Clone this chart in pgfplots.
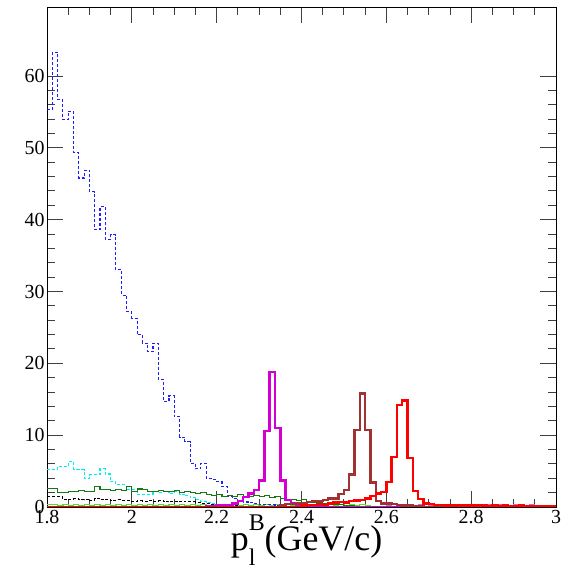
\documentclass[border=0pt]{standalone}
\usepackage{pgfplots}
\pgfplotsset{compat=1.18}
\usepackage{pgfplotstable}
\usepackage{fontspec}
\setmainfont{Liberation Serif}
\definecolor{hblue}{RGB}{30,30,255}
\definecolor{hcyan}{RGB}{0,240,240}
\definecolor{hgreen}{RGB}{20,120,20}
\definecolor{hmag}{RGB}{210,0,210}
\definecolor{hbrown}{RGB}{160,50,50}
\definecolor{hred}{RGB}{255,0,0}
\definecolor{hlgreen}{RGB}{90,220,40}
\definecolor{hviolet}{RGB}{200,100,220}
\pgfplotstableread{
x b c g k m br r lg vi
1.8000 55.3 5.2 2.6 1.4 0 0 0 0.3 0
1.8125 63.3 5.2 2.6 1.4 0 0 0 0.3 0
1.8250 56.7 5.6 2.0 1.4 0 0 0 0.2 0
1.8375 53.9 5.6 2.0 1.0 0 0 0 0.3 0
1.8500 55.1 6.3 2.2 1.1 0 0 0 0.2 0
1.8625 49.3 5.2 2.1 1.2 0 0 0 0.3 0
1.8750 45.8 5.2 2.3 1.0 0 0 0 0.2 0
1.8875 46.9 4.0 2.2 1.1 0 0 0 0.3 0
1.9000 43.9 4.5 2.2 0.9 0 0 0 0.2 0
1.9125 38.6 4.5 2.8 1.2 0 0 0 0.3 0
1.9250 41.8 5.3 2.4 1.0 0 0 0 0.2 0
1.9375 37.2 4.6 2.4 1.1 0 0 0 0.3 0
1.9500 37.9 3.5 2.3 0.9 0 0 0 0.2 0
1.9625 33.0 3.1 2.4 1.0 0 0 0 0.3 0
1.9750 29.5 3.1 2.3 0.9 0 0 0 0.2 0
1.9875 27.2 2.4 2.8 0.9 0 0 0 0.3 0
2.0000 26.3 2.4 2.2 0.8 0 0 0 0.2 0
2.0125 24.0 1.7 2.5 0.9 0 0 0 0.3 0
2.0250 22.8 1.7 2.4 0.8 0 0 0 0.2 0
2.0375 21.6 1.7 2.2 0.9 0 0 0 0.3 0
2.0500 22.8 2.1 2.1 0.8 0 0 0 0.2 0
2.0625 17.7 2.0 2.3 0.9 0 0 0 0.3 0
2.0750 14.7 2.2 2.2 0.7 0 0 0 0.2 0
2.0875 15.5 1.9 2.1 0.8 0 0 0 0.3 0
2.1000 12.6 2.1 2.3 0.7 0 0 0 0.2 0
2.1125 9.7 1.8 2.0 0.8 0 0 0 0.3 0
2.1250 9.1 1.6 2.1 0.7 0 0 0 0.2 0
2.1375 6.1 1.3 2.0 0.7 0 0 0 0.3 0
2.1500 5.3 1.0 1.9 0.6 0 0 0 0.2 0
2.1625 6.1 0.8 2.0 0.5 0 0 0 0.3 0
2.1750 4.0 0.6 1.8 0.5 0.1 0 0 0.2 0
2.1875 3.8 0.5 1.6 0.4 0.1 0 0 0.3 0
2.2000 3.5 0.3 1.7 0.3 0.2 0 0 0.2 0
2.2125 2.8 0.2 1.5 0.3 0.2 0 0 0.3 0
2.2250 1.4 0.1 1.6 0.2 0.3 0 0 0.2 0
2.2375 1.2 0 1.4 0.2 0.5 0 0 0.3 0
2.2500 0.9 0 1.7 0.1 0.8 0 0 0.2 0
2.2625 0.7 0 1.5 0.1 1.4 0 0 0.3 0
2.2750 0.6 0 1.4 0 1.9 0 0 0.2 0
2.2875 0.5 0 1.6 0 2.4 0 0 0.3 0
2.3000 0.4 0 1.5 0 3.7 0 0 0.2 0
2.3125 0.3 0 1.6 0 10.6 0 0 0.3 0
2.3250 0.3 0 1.3 0 18.8 0 0 0.2 0
2.3375 0.2 0 1.4 0 11.0 0 0 0.3 0
2.3500 0.2 0 1.2 0 3.7 0.3 0 0.2 0
2.3625 0.1 0 1.0 0 1.0 0.4 0 0.3 0
2.3750 0 0 1.1 0 0.5 0.4 0 0.2 0
2.3875 0 0 0.9 0 0.3 0.5 0 0.3 0
2.4000 0 0 1.0 0 0.2 0.5 0.2 0.2 0
2.4125 0 0 0.8 0 0.2 0.7 0.3 0.3 0
2.4250 0 0 0.7 0 0.1 0.8 0.3 0.2 0
2.4375 0 0 0.6 0 0.1 0.8 0.4 0.3 0
2.4500 0 0 0.5 0 0 1.0 0.3 0.2 0
2.4625 0 0 0.4 0 0 1.2 0.5 0.3 0
2.4750 0 0 0.3 0 0 1.2 0.6 0.2 0
2.4875 0 0 0.3 0 0 1.8 0.7 0.3 0
2.5000 0 0 0.2 0 0 2.4 0.6 0.2 0
2.5125 0 0 0.2 0 0 4.5 0.8 0.3 0
2.5250 0 0 0.1 0 0 10.7 0.9 0.2 0
2.5375 0 0 0 0 0 15.8 1.0 0.3 0
2.5500 0 0 0 0 0 10.7 1.2 0.2 0
2.5625 0 0 0 0 0 3.4 1.5 0.1 0
2.5750 0 0 0 0 0 0.8 1.9 0.1 0
2.5875 0 0 0 0 0 0.5 2.1 0.1 0
2.6000 0 0 0 0 0 0.5 3.5 0.1 0.2
2.6125 0 0 0 0 0 0.4 7.0 0.1 0.3
2.6250 0 0 0 0 0 0.3 14.2 0.1 0.2
2.6375 0 0 0 0 0 0.2 14.8 0.1 0.3
2.6500 0 0 0 0 0 0.2 6.8 0.1 0.3
2.6625 0 0 0 0 0 0.1 2.2 0.1 0.2
2.6750 0 0 0 0 0 0.1 1.1 0.1 0.3
2.6875 0 0 0 0 0 0 0.5 0.1 0.3
2.7000 0 0 0 0 0 0 0.4 0.1 0.2
2.7125 0 0 0 0 0 0 0.3 0.1 0.3
2.7250 0 0 0 0 0 0 0.3 0.1 0.3
2.7375 0 0 0 0 0 0 0.2 0.1 0.2
2.7500 0 0 0 0 0 0 0.3 0.1 0.3
2.7625 0 0 0 0 0 0 0.2 0.1 0.3
2.7750 0 0 0 0 0 0 0.3 0.1 0.2
2.7875 0 0 0 0 0 0 0.2 0.1 0.3
2.8000 0 0 0 0 0 0 0.2 0.1 0.3
2.8125 0 0 0 0 0 0 0.3 0.1 0.2
2.8250 0 0 0 0 0 0 0.2 0.1 0.3
2.8375 0 0 0 0 0 0 0.1 0.1 0.3
2.8500 0 0 0 0 0 0 0.2 0.1 0.2
2.8625 0 0 0 0 0 0 0.1 0.1 0.3
2.8750 0 0 0 0 0 0 0.2 0.1 0.3
2.8875 0 0 0 0 0 0 0.1 0.1 0.2
2.9000 0 0 0 0 0 0 0.1 0.1 0.3
2.9125 0 0 0 0 0 0 0.2 0.1 0.3
2.9250 0 0 0 0 0 0 0.1 0.1 0.2
2.9375 0 0 0 0 0 0 0.1 0.1 0.3
2.9500 0 0 0 0 0 0 0.1 0.1 0.2
2.9625 0 0 0 0 0 0 0.1 0.1 0.1
2.9750 0 0 0 0 0 0 0.1 0.1 0.1
2.9875 0 0 0 0 0 0 0.1 0.1 0.1
3.0000 0 0 0 0 0 0 0.1 0.1 0.1
}\histdata
\begin{document}
\begin{tikzpicture}[x=1bp,y=1bp]
\path[use as bounding box] (0,0) rectangle (572,569);
\begin{axis}[
  at={(47bp,62bp)}, anchor=south west,
  scale only axis, width=509bp, height=500bp,
  xmin=1.8, xmax=3, ymin=0, ymax=69.6,
  xtick={1.8,2,2.2,2.4,2.6,2.8,3},
  xticklabels={1.8,2,2.2,2.4,2.6,2.8,3},
  minor x tick num=3,
  ytick={0,10,20,30,40,50,60},
  minor y tick num=4,
  xtick pos=both, ytick pos=both,
  tick align=inside,
  major tick length=16bp, minor tick length=8bp,
  every tick/.style={black!75, line width=0.9bp},
  axis line style={black, line width=0.9bp},
  scaled ticks=false,
  /pgf/number format/assume math mode=true,
  ticklabel style={font=\fontsize{20}{20}\selectfont},
  yticklabel style={xshift=1bp},
  xlabel={p\smash{\raisebox{-0.42em}{\makebox[0pt][l]{\fontsize{24}{24}\selectfont l}}\raisebox{0.55em}{\fontsize{24}{24}\selectfont B}}(GeV/c)},
  xlabel style={font=\fontsize{36}{36}\selectfont, inner sep=0pt, at={(axis description cs:0.5,0)}, anchor=base, yshift=-43bp, xshift=5bp},
  every axis plot/.append style={const plot, no marks},
]
\addplot[hlgreen, line width=1.2bp] table[x=x, y=lg] {\histdata};
\addplot[hviolet, line width=1.2bp] table[x=x, y=vi] {\histdata};
\addplot[hblue, line width=1.1bp, dash pattern=on 3bp off 2bp] table[x=x, y=b] {\histdata};
\addplot[hcyan, line width=1.1bp, dash pattern=on 3bp off 2bp] table[x=x, y=c] {\histdata};
\addplot[black, line width=1.0bp, dash pattern=on 3bp off 2bp] table[x=x, y=k] {\histdata};
\addplot[hgreen, line width=1.1bp] table[x=x, y=g] {\histdata};
\addplot[hmag, line width=2.4bp] table[x=x, y=m] {\histdata};
\addplot[hbrown, line width=2.4bp] table[x=x, y=br] {\histdata};
\addplot[hred, line width=2.4bp] table[x=x, y=r] {\histdata};
\end{axis}
\end{tikzpicture}
\end{document}
